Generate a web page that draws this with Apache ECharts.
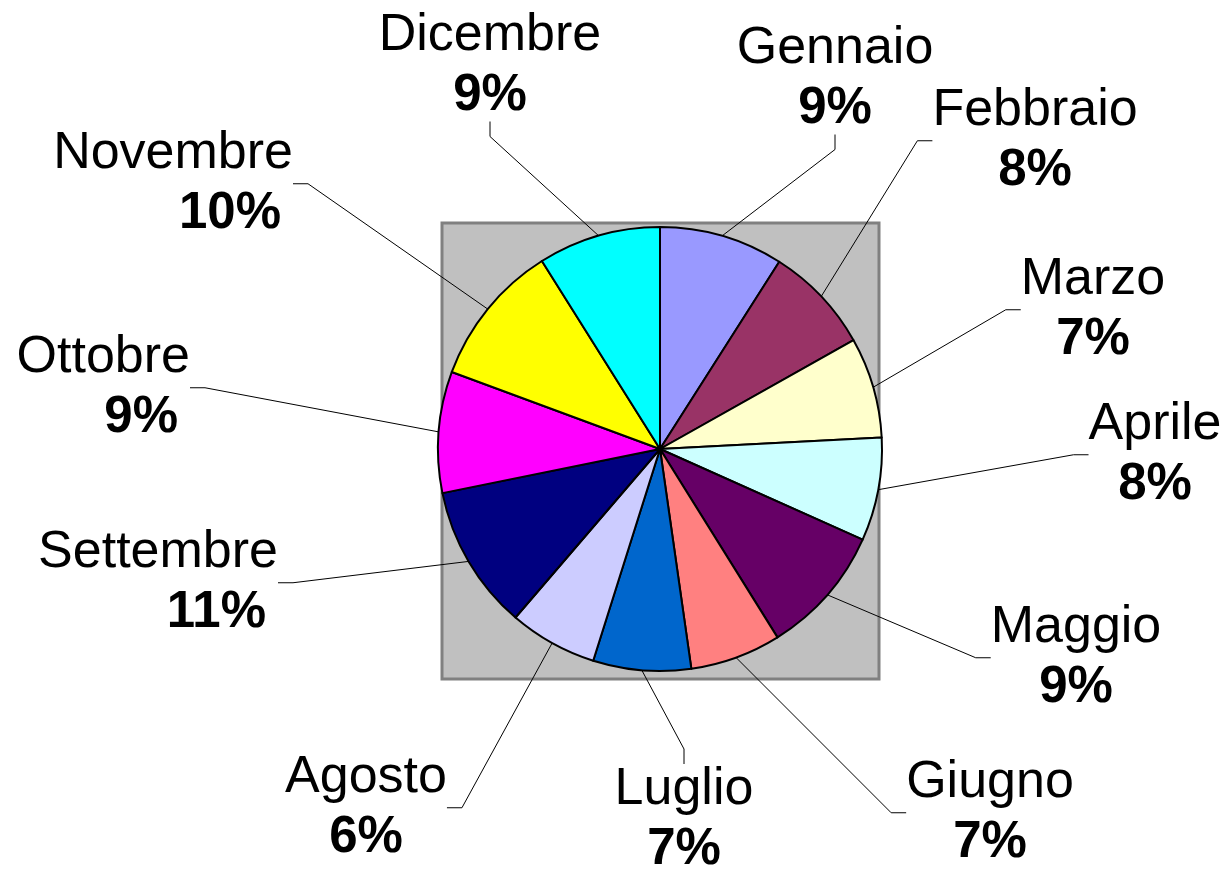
<!DOCTYPE html>
<html>
<head>
<meta charset="utf-8">
<script src="https://cdn.jsdelivr.net/npm/echarts@6/dist/echarts.min.js"></script>
<style>
  html, body { margin: 0; padding: 0; background: #fff; }
  #chart { width: 1229px; height: 875px; }
</style>
</head>
<body>
<div id="chart"></div>
<script>
// mesi e quote
var mesi = ['Gennaio', 'Febbraio', 'Marzo', 'Aprile', 'Maggio', 'Giugno',
            'Luglio', 'Agosto', 'Settembre', 'Ottobre', 'Novembre', 'Dicembre'];
var valori = [9.0, 7.8, 7.3, 7.5, 9.4, 6.6, 7.1, 6.4, 10.5, 8.8, 10.4, 8.9];
var colori = ['#9999FF', '#993366', '#FFFFCC', '#CCFFFF', '#660066', '#FF8080',
              '#0066CC', '#CCCCFF', '#000080', '#FF00FF', '#FFFF00', '#00FFFF'];

// posizione delle etichette (come nel grafico originale)
var etichettaX = [835, 1035, 1093, 1155, 1076, 990, 684, 366, 278, 190, 293, 490];
var etichettaY = [79, 141, 310, 455, 658, 813, 820, 808, 583, 388, 184, 66];
var etichettaAllinea = ['center', 'center', 'center', 'center', 'center', 'center',
                        'center', 'center', 'right', 'right', 'right', 'center'];

function getChart() {
    var dati = [];
    for (var i = 0; i < mesi.length; i++) {
        dati.push({ name: mesi[i], value: valori[i], itemStyle: { color: colori[i] } });
    }
    var option = {
        backgroundColor: '#ffffff',
        animation: false,
        graphic: [{
            type: 'rect',
            z: 0,
            shape: { x: 442, y: 223, width: 437, height: 456 },
            style: { fill: '#C0C0C0', stroke: '#808080', lineWidth: 3 }
        }],
        series: [{
            type: 'pie',
            center: [660, 449],
            radius: 222,
            startAngle: 90,
            clockwise: true,
            avoidLabelOverlap: false,
            itemStyle: { borderColor: '#000000', borderWidth: 2 },
            label: {
                show: true,
                position: 'outside',
                color: '#000',
                fontFamily: 'Liberation Sans, Arial, sans-serif',
                formatter: function (p) {
                    var st = etichettaAllinea[p.dataIndex] === 'right' ? 'pr' : 'p';
                    return '{n|' + p.name + '}\n{' + st + '|' + Math.round(p.percent) + '%}';
                },
                rich: {
                    n: { fontSize: 52, fontWeight: 'normal', lineHeight: 60,
                         fontFamily: 'Liberation Sans, Arial, sans-serif', color: '#000' },
                    p: { fontSize: 51, fontWeight: 'bold', lineHeight: 60,
                         fontFamily: 'Liberation Sans, Arial, sans-serif', color: '#000' },
                    pr: { fontSize: 51, fontWeight: 'bold', lineHeight: 60, padding: [0, 12, 0, 0],
                          fontFamily: 'Liberation Sans, Arial, sans-serif', color: '#000' }
                }
            },
            labelLine: {
                show: true,
                length: 20,
                length2: 15,
                lineStyle: { color: '#000', width: 1 }
            },
            labelLayout: function (params) {
                var i = params.dataIndex;
                return {
                    x: etichettaX[i],
                    y: etichettaY[i],
                    align: etichettaAllinea[i],
                    verticalAlign: 'middle'
                };
            },
            emphasis: { disabled: true },
            data: dati
        }]
    };
    return option;
}

var myChart = echarts.init(document.getElementById('chart'), null, { renderer: 'canvas' });
myChart.setOption(getChart());
window.addEventListener('resize', function () {
    myChart.resize();
});
</script>
</body>
</html>
